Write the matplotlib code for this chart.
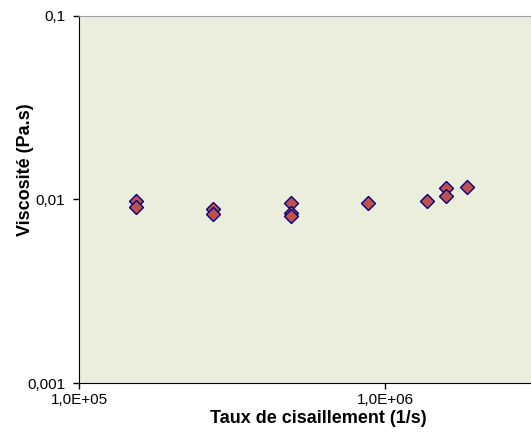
import matplotlib
matplotlib.use("Agg")
import matplotlib.pyplot as plt
from matplotlib.ticker import FixedLocator, NullLocator

# shear rate (1/s) and viscosity (Pa.s)
taux = [1.53e5, 1.53e5, 2.75e5, 2.75e5, 4.92e5, 4.92e5, 4.92e5,
        8.82e5, 1.37e6, 1.58e6, 1.58e6, 1.85e6]
viscosite = [0.00987, 0.00908, 0.00884, 0.0083, 0.00954, 0.00847, 0.00813,
             0.0096, 0.00985, 0.0116, 0.0105, 0.0117]

x_ticks = [1e5, 1e6]
x_labels = ["1,0E+05", "1,0E+06"]
y_ticks = [0.001, 0.01, 0.1]
y_labels = ["0,001", "0,01", "0,1"]

plt.rcParams['font.family'] = ['Liberation Sans', 'DejaVu Sans']

fig = plt.figure(figsize=(5.31, 4.32), dpi=100)
ax = fig.add_axes([0.1488, 0.1134, 0.8512, 0.8496])
ax.set_facecolor("#EBEEDD")

ax.plot(taux, viscosite, linestyle="none", marker="D", markersize=7,
        markerfacecolor="#C0504D", markeredgecolor="#000080", markeredgewidth=1.0)

ax.set_xscale("log")
ax.set_yscale("log")
ax.set_xlim(1e5, 3e6)
ax.set_ylim(0.001, 0.1)

ax.xaxis.set_major_locator(FixedLocator(x_ticks))
ax.xaxis.set_minor_locator(NullLocator())
ax.set_xticklabels(x_labels)
ax.yaxis.set_major_locator(FixedLocator(y_ticks))
ax.yaxis.set_minor_locator(NullLocator())
ax.set_yticklabels(y_labels)
ax.tick_params(axis="both", labelsize=11, length=4, width=1, direction="out")
ax.tick_params(axis="y", pad=6)

ax.set_xlabel("Taux de cisaillement (1/s)", fontsize=13, fontweight="bold")
ax.set_ylabel("Viscosité (Pa.s)", fontsize=13, fontweight="bold")
ax.xaxis.set_label_coords(0.53, -0.074)
ax.yaxis.set_label_coords(-0.1, 0.58)

ax.spines["top"].set_color("#A0A0A0")
ax.spines["right"].set_visible(False)
ax.spines["left"].set_color("black")
ax.spines["bottom"].set_color("black")

fig.savefig("out.png", dpi=100)
